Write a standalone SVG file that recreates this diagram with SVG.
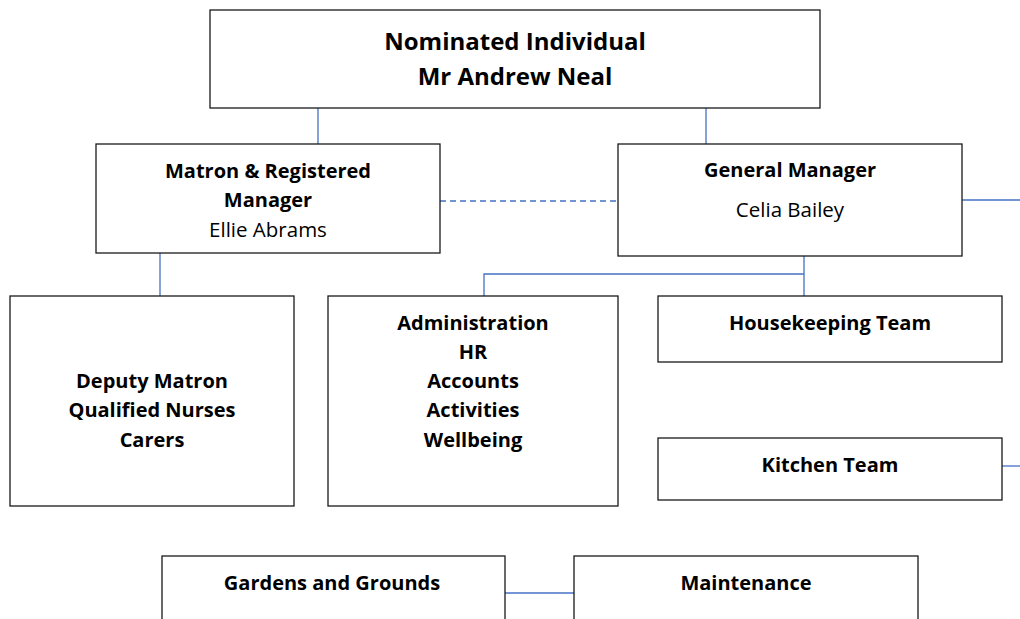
<svg xmlns="http://www.w3.org/2000/svg" width="1020" height="619" viewBox="0 0 1020 619">
<style>
.box{fill:#fff;stroke:#1a1a1a;stroke-width:1.3}
.ln{stroke:#4472C4;stroke-width:1.3;fill:none}
.dash{stroke-dasharray:6 4}
text{font-family:"Open Sans","Liberation Sans",sans-serif;fill:#000;text-anchor:middle;dominant-baseline:central}
.b{font-weight:bold;font-size:20px}
.r{font-size:20.5px}
.big{font-weight:bold;font-size:24px}
</style>
<rect width="1020" height="619" fill="#fff"/>
<g id="connectors">
<line class="ln" x1="318" y1="108" x2="318" y2="144"/>
<line class="ln" x1="706" y1="108" x2="706" y2="144"/>
<line class="ln dash" x1="440" y1="201" x2="618" y2="201"/>
<line class="ln" x1="962" y1="200" x2="1020" y2="200"/>
<line class="ln" x1="160" y1="253" x2="160" y2="296"/>
<polyline class="ln" points="804,256 804,296"/>
<polyline class="ln" points="804,274 484,274 484,296"/>
<line class="ln" x1="1002" y1="466" x2="1020" y2="466"/>
<line class="ln" x1="505" y1="593" x2="574" y2="593"/>
</g>
<g id="nominated">
<rect class="box" x="210" y="10" width="610" height="98"/>
<text class="big" x="515" y="40">Nominated Individual</text>
<text class="big" x="515" y="75">Mr Andrew Neal</text>
</g>
<g id="matron">
<rect class="box" x="96" y="144" width="344" height="109"/>
<text class="b" x="268" y="170">Matron &amp; Registered</text>
<text class="b" x="268" y="199">Manager</text>
<text class="r" x="268" y="229">Ellie Abrams</text>
</g>
<g id="general-manager">
<rect class="box" x="618" y="144" width="344" height="112"/>
<text class="b" x="790" y="169">General Manager</text>
<text class="r" x="790" y="209">Celia Bailey</text>
</g>
<g id="deputy">
<rect class="box" x="10" y="296" width="284" height="210"/>
<text class="b" x="152" y="380">Deputy Matron</text>
<text class="b" x="152" y="409">Qualified Nurses</text>
<text class="b" x="152" y="439">Carers</text>
</g>
<g id="admin">
<rect class="box" x="328" y="296" width="290" height="210"/>
<text class="b" x="473" y="322">Administration</text>
<text class="b" x="473" y="351">HR</text>
<text class="b" x="473" y="380">Accounts</text>
<text class="b" x="473" y="409">Activities</text>
<text class="b" x="473" y="439">Wellbeing</text>
</g>
<g id="housekeeping">
<rect class="box" x="658" y="296" width="344" height="66"/>
<text class="b" x="830" y="322">Housekeeping Team</text>
</g>
<g id="kitchen">
<rect class="box" x="658" y="438" width="344" height="62"/>
<text class="b" x="830" y="464">Kitchen Team</text>
</g>
<g id="gardens">
<rect class="box" x="162" y="556" width="343" height="80"/>
<text class="b" x="332" y="582">Gardens and Grounds</text>
</g>
<g id="maintenance">
<rect class="box" x="574" y="556" width="344" height="80"/>
<text class="b" x="746" y="582">Maintenance</text>
</g>
</svg>
